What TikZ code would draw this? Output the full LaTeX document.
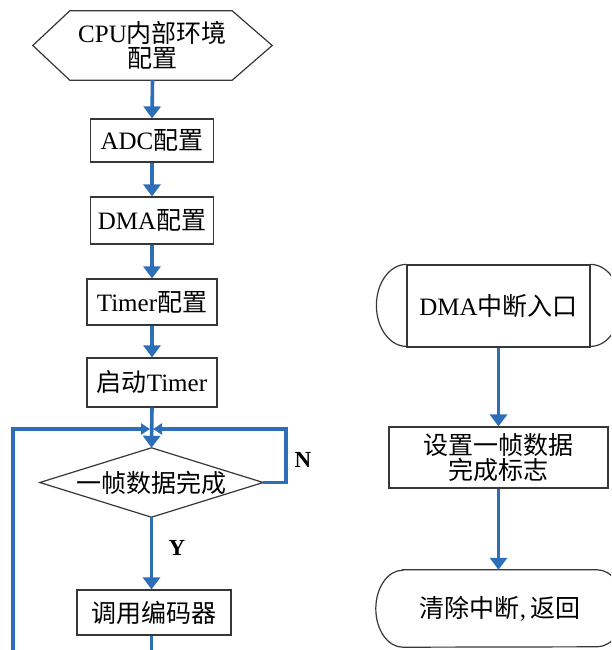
\documentclass[tikz,border=0pt]{standalone}
\usepackage{fontspec}
\setmainfont{Liberation Serif}
\newfontfamily\cjk{Noto Sans CJK SC}
\usetikzlibrary{arrows.meta,calc}
\newcommand\zh[1]{{\cjk #1}}
\definecolor{flowblue}{RGB}{46,110,185}
\definecolor{boxgray}{RGB}{55,55,55}
\begin{document}
\begin{tikzpicture}[x=1pt,y=-1pt,
  flow/.style={draw=flowblue,line width=3.6pt},
  arr/.style={flow,-{Triangle[width=17pt,length=12pt]}},
  sarr/.style={flow,-{Triangle[width=11pt,length=9pt]}},
  shapeline/.style={draw=boxgray,line width=1.2pt},
  box/.style={shapeline,inner sep=0pt,align=center,font=\fontsize{25}{25}\selectfont},
  txt/.style={inner sep=0pt,align=center,font=\fontsize{25}{25}\selectfont},
  yn/.style={inner sep=0pt,font=\fontsize{23}{24}\selectfont\bfseries}]
\useasboundingbox (0,0) rectangle (611,650);
\clip (0,0) rectangle (611,650);
\fill[white] (0,0) rectangle (611,650);

% left column
\node[txt,minimum width=239pt,minimum height=69pt] (cpu) at (152.5,45.5) {CPU\zh{内部环境}\\\zh{配置}};
\draw[shapeline] (cpu.west) -- ($(cpu.north west)+(37,0)$) -- ($(cpu.north east)+(-40,0)$)
  -- (cpu.east) -- ($(cpu.south east)+(-40,0)$) -- ($(cpu.south west)+(37,0)$) -- cycle;
\node[box,minimum width=123pt,minimum height=43pt] (adc) at (152,140.5) {ADC\zh{配置}};
\node[box,minimum width=123pt,minimum height=47pt] (dma) at (152,220.5) {DMA\zh{配置}};
\node[box,minimum width=130pt,minimum height=46pt] (tim) at (152,302) {Timer\zh{配置}};
\node[box,minimum width=130pt,minimum height=49pt] (start) at (152,382.5) {\zh{启动}Timer};
\node[txt,minimum width=223pt,minimum height=69pt] (dia) at (151.5,482.5) {\zh{一帧数据完成}};
\draw[shapeline] (dia.west) -- (dia.north) -- (dia.east) -- (dia.south) -- cycle;
\node[box,minimum width=154pt,minimum height=45pt] (enc) at (154,612.5) {\zh{调用编码器}};

\draw[arr] (cpu.south) -- (adc.north);
\draw[arr] (adc.south) -- (dma.north);
\draw[arr] (dma.south) -- (tim.north);
\draw[arr] (tim.south) -- (start.north);
\draw[arr] (start.south) -- (dia.north);

\coordinate (j) at (151.5,429);
\coordinate (lb) at (13,655);
\coordinate (nr) at (286,482.5);
\coordinate (nt) at (286,429);
\coordinate (eb) at (151.5,655);
\draw[sarr] (lb) |- ($(j)+(-1.5,0)$);
\draw[sarr] (dia.east) -- (nr) -- (nt) -- ($(j)+(1.5,0)$);
\draw[arr] (dia.south) -- (dia.south |- enc.north);
\draw[flow] (enc.south -| eb) -- (eb);

\node[yn] (n) at (303,460) {N};
\node[yn] (y) at (177,548) {Y};

% right column
\node[box,minimum width=183pt,minimum height=82pt] (din) at (498.5,306) {DMA\zh{中断入口}};
\draw[shapeline] (din.north west) arc[start angle=90,end angle=270,x radius=30pt,y radius=41pt];
\draw[shapeline] (din.north east) arc[start angle=90,end angle=-90,x radius=30pt,y radius=41pt];
\node[box,minimum width=219pt,minimum height=61pt] (flag) at (498.5,457.5) {\zh{设置一帧数据}\\\zh{完成标志}};
\node[txt,minimum width=194pt,minimum height=77pt] (clr) at (500,608.5) {\zh{清除中断},\,\zh{返回}};
\draw[shapeline] (clr.north west) -- (clr.north east)
  arc[start angle=90,end angle=-90,x radius=27pt,y radius=38.5pt]
  -- (clr.south west)
  arc[start angle=270,end angle=90,x radius=27pt,y radius=38.5pt] -- cycle;

\draw[arr] (din.south) -- (flag.north);
\draw[arr] (flag.south) -- (flag.south |- clr.north);
\end{tikzpicture}
\end{document}
